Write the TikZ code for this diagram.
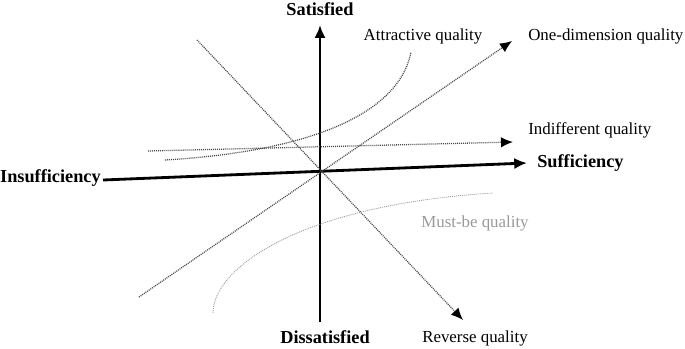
\documentclass[tikz,border=0pt]{standalone}
\usepackage{fontspec}
\setmainfont{Liberation Serif}
\usepackage{xcolor}
\definecolor{trait}{HTML}{4A4A4A}
\definecolor{clair}{HTML}{9A9A9A}
\usetikzlibrary{arrows.meta}

\begin{document}
\begin{tikzpicture}[x=0.025cm,y=-0.025cm,
  axe/.style={line width=2pt,-{Latex[length=3.2mm,width=2.8mm]}},
  courbe/.style={trait,line width=0.9pt,dash pattern=on 0.7pt off 0.7pt},
  fl/.style={-{Latex[length=3mm,width=2.6mm,black,sep=0pt]}},
  titre/.style={font=\bfseries\fontsize{13}{15}\selectfont,inner sep=0pt},
  etiq/.style={font=\fontsize{12}{14}\selectfont,inner sep=0pt}
]
\useasboundingbox (0,0) rectangle (685,349);
% axes
\coordinate (o) at (320,172);
\coordinate (gauche) at (103,180);
\coordinate (droite) at (527,163);
\coordinate (bas) at (320,322);
\coordinate (haut) at (320,25);
\node[titre] (sat) at (320,9) {Satisfied};
\node[titre] (dis) at (325,337) {Dissatisfied};
\node[titre,anchor=east] (insuf) at (101,178) {Insufficiency};
\node[titre,anchor=west] (suf) at (537,163) {Sufficiency};
\draw[axe] (gauche)--(droite);
\draw[axe] (bas)--(haut);
% courbes de qualite
\coordinate (a0) at (165,160);
\coordinate (a1) at (411,52);
\coordinate (i0) at (148,151);
\coordinate (i1) at (513,142);
\coordinate (u0) at (139,297);
\coordinate (u1) at (512,41);
\coordinate (r0) at (197,40);
\coordinate (r1) at (463,320);
\coordinate (m0) at (213,313);
\coordinate (m1) at (493,193);
\draw[courbe] (a0) .. controls (300,152) and (398,118) .. (a1);
\draw[courbe,fl] (i0)--(i1);
\draw[courbe,fl] (u0)--(u1);
\draw[courbe,fl] (r0)--(r1);
\draw[courbe,clair,line width=0.6pt] (m0) .. controls (213,268) and (300,205) .. (m1);
\node[etiq] (attr) at (423,36) {Attractive quality};
\node[etiq,anchor=west] (unidim) at (528,36) {One-dimension quality};
\node[etiq,anchor=west] (indiff) at (528,130) {Indifferent quality};
\node[etiq,clair] (must) at (475,223) {Must-be quality};
\node[etiq] (rev) at (475,338) {Reverse quality};
\end{tikzpicture}
\end{document}
